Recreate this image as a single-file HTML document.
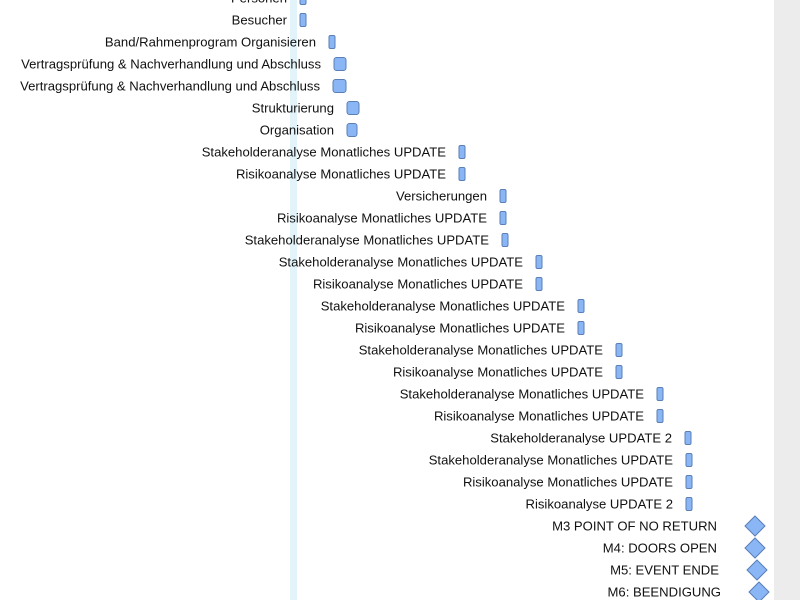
<!DOCTYPE html>
<html><head><meta charset="utf-8"><style>
body{margin:0;width:800px;height:600px;overflow:hidden;background:#fff;font-family:"Liberation Sans",Arial,sans-serif}
</style></head><body>
<svg id="chart" width="800" height="600" xmlns="http://www.w3.org/2000/svg">
<rect x="774" y="0" width="26" height="600" fill="#ececec"/>
<rect x="290" y="0" width="7" height="600" fill="#e2f4f9"/>
<g id="rows"></g>
</svg>
<script>
const taskNames=["Personen","Besucher","Band/Rahmenprogram Organisieren","Vertragsprüfung & Nachverhandlung und Abschluss","Vertragsprüfung & Nachverhandlung und Abschluss","Strukturierung","Organisation","Stakeholderanalyse Monatliches UPDATE","Risikoanalyse Monatliches UPDATE","Versicherungen","Risikoanalyse Monatliches UPDATE","Stakeholderanalyse Monatliches UPDATE","Stakeholderanalyse Monatliches UPDATE","Risikoanalyse Monatliches UPDATE","Stakeholderanalyse Monatliches UPDATE","Risikoanalyse Monatliches UPDATE","Stakeholderanalyse Monatliches UPDATE","Risikoanalyse Monatliches UPDATE","Stakeholderanalyse Monatliches UPDATE","Risikoanalyse Monatliches UPDATE","Stakeholderanalyse UPDATE 2","Stakeholderanalyse Monatliches UPDATE","Risikoanalyse Monatliches UPDATE","Risikoanalyse UPDATE 2","M3 POINT OF NO RETURN","M4: DOORS OPEN","M5: EVENT ENDE","M6: BEENDIGUNG"];
const startDays=[5,5,19.5,22,21.5,28.5,28.5,84.5,84.5,105,105,106,123,123,144,144,163,163,183.5,183.5,197.5,198,198,198,232.5,232.5,233.5,234.5];
const durations=[3,3,3,6,6.5,6,5,3,3,3,3,3,3,3,3,3,3,3,3,3,3,3,3,3,0,0,0,0];
const isMilestone=[0,0,0,0,0,0,0,0,0,0,0,0,0,0,0,0,0,0,0,0,0,0,0,0,1,1,1,1];
const x0=290,pxPerDay=2,rowTop=-2,rowH=22;
const xs=d=>x0+d*pxPerDay, ys=i=>rowTop+i*rowH;
const g=document.getElementById('rows'),NS='http://www.w3.org/2000/svg';
taskNames.forEach((n,i)=>{
  const cy=ys(i),sx=xs(startDays[i]);
  const t=document.createElementNS(NS,'text');
  
  
  const lx=isMilestone[i]?sx-38:sx-13;
  t.setAttribute('x',lx);t.setAttribute('y',cy+4.5);t.setAttribute('text-anchor','end');
  t.setAttribute('font-size','13.1');t.setAttribute('fill','#111');t.textContent=n;g.appendChild(t);
  let m;
  if(isMilestone[i]){
    m=document.createElementNS(NS,'polygon');
    
    
    m.setAttribute('points',`${sx},${cy-10} ${sx+10},${cy} ${sx},${cy+10} ${sx-10},${cy}`);
  }else{
    m=document.createElementNS(NS,'rect');
    
    
    const w=durations[i]*pxPerDay;
    m.setAttribute('x',sx);m.setAttribute('y',cy-6.5);m.setAttribute('width',w);m.setAttribute('height',13);
    m.setAttribute('rx',w>8?2.5:1.5);
  }
  m.setAttribute('fill','#8ab6f5');m.setAttribute('stroke','#5a7fb5');m.setAttribute('stroke-width','1');
  g.appendChild(m);
});
</script>
</body></html>
